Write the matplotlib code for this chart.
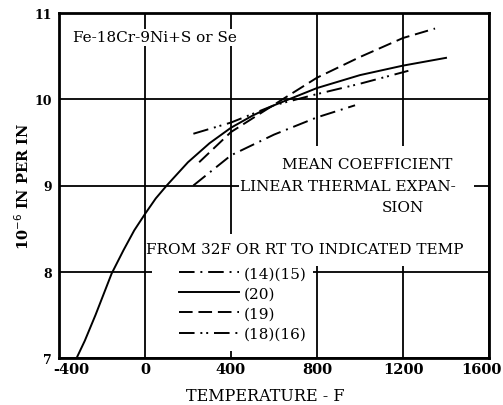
import matplotlib
matplotlib.use("Agg")
import matplotlib.pyplot as plt
import matplotlib.transforms as mtransforms
from matplotlib.patches import Rectangle

# curves (temperature F, 10^-6 in/in)
t_20 = [-318, -280, -230, -155, -100, -50, 0, 50, 101, 200, 300, 400, 500, 600, 800, 1000, 1200, 1400]
a_20 = [7.0, 7.2, 7.5, 7.98, 8.25, 8.48, 8.67, 8.85, 9.0, 9.27, 9.49, 9.67, 9.81, 9.93, 10.13, 10.28, 10.39, 10.48]

t_19 = [252, 400, 653, 800, 1000, 1200, 1349]
a_19 = [9.27, 9.62, 10.02, 10.25, 10.49, 10.71, 10.82]

t_1415 = [225, 400, 600, 800, 977]
a_1415 = [9.0, 9.35, 9.59, 9.79, 9.93]

t_1816 = [225, 400, 600, 800, 1000, 1225]
a_1816 = [9.6, 9.73, 9.93, 10.06, 10.18, 10.33]

x_ticks = [-400, 0, 400, 800, 1200, 1600]
y_ticks = [7, 8, 9, 10, 11]

plt.rcParams['font.family'] = "DejaVu Serif"
plt.rcParams['axes.unicode_minus'] = False

fig = plt.figure(figsize=(5.03, 4.06), dpi=100)
ax = fig.add_axes([59/503, 47/406, 430/503, 345/406])
ax.set_xlim(-400, 1600)
ax.set_ylim(7, 11)
ax.set_xticks(x_ticks)
ax.set_yticks(y_ticks)
ax.tick_params(axis="x", length=0, labelsize=10.5, pad=3)
ax.tick_params(axis="y", length=0, labelsize=9, pad=5)
for lab in ax.get_xticklabels() + ax.get_yticklabels():
    lab.set_fontweight("bold")
# end labels sit inside the figure, as in the original
xl = ax.get_xticklabels()
xl[0].set_transform(xl[0].get_transform() + mtransforms.ScaledTranslation(12/100, 0, fig.dpi_scale_trans))
xl[-1].set_transform(xl[-1].get_transform() + mtransforms.ScaledTranslation(-8/100, 0, fig.dpi_scale_trans))
for s in ax.spines.values():
    s.set_linewidth(2)
ax.grid(True, color="black", linewidth=1.3, zorder=0)
ax.set_axisbelow(True)

# white areas where the text sits over the grid
ax.add_patch(Rectangle((437, 8.07), 1093, 1.39, facecolor="white", edgecolor="none", zorder=1))
ax.add_patch(Rectangle((33, 7.08), 748, 1.36, facecolor="white", edgecolor="none", zorder=1))

lw = 1.4
l1, = ax.plot(t_1415, a_1415, color="black", lw=lw, ls=(0, (8, 3, 1, 3)), zorder=3)
l2, = ax.plot(t_20, a_20, color="black", lw=lw, ls="-", zorder=3)
l3, = ax.plot(t_19, a_19, color="black", lw=lw, ls=(0, (7, 3)), zorder=3)
l4, = ax.plot(t_1816, a_1816, color="black", lw=lw, ls=(0, (8, 3, 1, 2, 1, 3)), zorder=3)

fs = 11
ax.text(-335, 10.72, "Fe-18Cr-9Ni+S or Se", fontsize=fs, va="center",
        bbox=dict(facecolor="white", edgecolor="none", pad=1), zorder=4)
ax.text(1032, 9.25, "MEAN COEFFICIENT", fontsize=fs, ha="center", va="center", zorder=4)
ax.text(442, 8.99, "LINEAR THERMAL EXPAN-", fontsize=fs, ha="left", va="center", zorder=4)
ax.text(1200, 8.75, "SION", fontsize=fs, ha="center", va="center", zorder=4)
ax.text(5, 8.26, "FROM 32F OR RT TO INDICATED TEMP", fontsize=fs, ha="left", va="center", zorder=4)

leg = ax.legend([l1, l2, l3, l4], ["(14)(15)", "(20)", "(19)", "(18)(16)"],
                loc="upper left", bbox_to_anchor=(0.28, 0.265), frameon=False,
                borderaxespad=0, borderpad=0,
                fontsize=fs, handlelength=3.9, handletextpad=0.3, labelspacing=0.4)
leg.set_zorder(5)

ax.set_xlabel("TEMPERATURE - F", fontsize=11.5, labelpad=4)
ax.xaxis.set_label_coords(0.48, -0.085)
ax.set_ylabel("10$^{-6}$ IN PER IN", fontsize=10.5, fontweight="bold", labelpad=2)

fig.savefig("out.png", dpi=100)
